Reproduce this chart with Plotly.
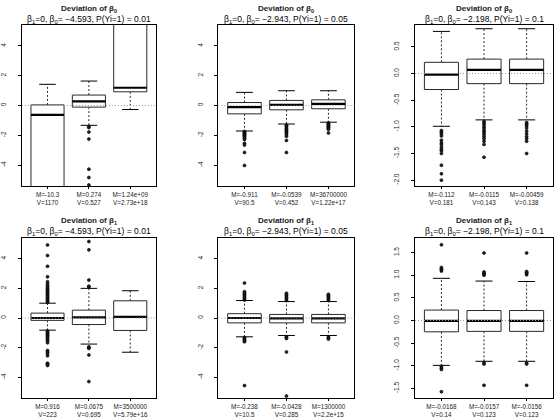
import plotly.graph_objects as go

# ---------------- data ----------------
TITLES = ["<b>Deviation of β<sub>0</sub></b>"] * 3 + ["<b>Deviation of β<sub>1</sub></b>"] * 3
SUBTITLES = [
    "β<sub>1</sub>=0, β<sub>0</sub>= −4.593, P(Yi=1) = 0.01",
    "β<sub>1</sub>=0, β<sub>0</sub>= −2.943, P(Yi=1) = 0.05",
    "β<sub>1</sub>=0, β<sub>0</sub>= −2.198, P(Yi=1) = 0.1",
] * 2

XLABELS = [
    ["M=-10.3<br>V=1170", "M=0.274<br>V=0.527", "M=1.24e+09<br>V=2.73e+18"],
    ["M=-0.911<br>V=90.5", "M=-0.0539<br>V=0.452", "M=36700000<br>V=1.22e+17"],
    ["M=-0.112<br>V=0.181", "M=-0.0115<br>V=0.143", "M=-0.00459<br>V=0.138"],
    ["M=0.916<br>V=223", "M=0.0675<br>V=0.695", "M=3500000<br>V=5.79e+16"],
    ["M=-0.238<br>V=10.5", "M=-0.0428<br>V=0.285", "M=1300000<br>V=2.2e+15"],
    ["M=-0.0168<br>V=0.14", "M=-0.0157<br>V=0.123", "M=-0.0156<br>V=0.123"],
]

# five-number stats per panel (3 boxes each)
LOWER = [
    [-40.0, -1.33, -0.27],
    [-1.71, -1.24, -1.12],
    [-0.99, -0.87, -0.87],
    [-0.82, -1.76, -2.31],
    [-1.27, -1.18, -1.18],
    [-0.99, -0.90, -0.90],
]
Q1 = [
    [-15.0, -0.11, 0.92],
    [-0.56, -0.29, -0.22],
    [-0.30, -0.19, -0.19],
    [-0.16, -0.44, -0.84],
    [-0.33, -0.33, -0.33],
    [-0.25, -0.24, -0.24],
]
MEDIAN = [
    [-0.63, 0.27, 1.19],
    [-0.11, 0.04, 0.11],
    [-0.02, 0.07, 0.07],
    [0.00, 0.04, 0.07],
    [0.00, -0.02, -0.02],
    [-0.01, -0.01, -0.01],
]
Q3 = [
    [0.04, 0.70, 20.0],
    [0.20, 0.34, 0.38],
    [0.21, 0.27, 0.27],
    [0.33, 0.53, 1.16],
    [0.29, 0.24, 0.24],
    [0.23, 0.22, 0.22],
]
UPPER = [
    [1.42, 1.64, 50.0],
    [0.88, 0.99, 0.99],
    [0.79, 0.84, 0.84],
    [1.00, 2.00, 1.84],
    [1.18, 1.11, 1.11],
    [0.93, 0.87, 0.86],
]
OUTLIERS = [
    [[], [-1.42, -1.48, -1.78, -2.25, -4.27, -4.83, -5.33], []],
    [[-1.75, -1.8, -1.85, -1.9, -1.95, -2.0, -2.05, -2.1, -2.2, -2.28, -2.54, -2.65, -3.15, -4.02],
     [-1.32, -1.38, -1.45, -1.55, -1.62, -1.7, -1.78, -1.85, -1.95, -2.07, -2.34, -3.15],
     [-1.17, -1.22, -1.28, -1.34, -1.4, -1.46, -1.52, -1.6, -1.84]],
    [[-1.07, -1.1, -1.13, -1.17, -1.25, -1.3, -1.33, -1.38, -1.42, -1.45, -1.5, -1.72, -1.88, -2.0],
     [-0.9, -0.93, -0.96, -1.0, -1.03, -1.07, -1.1, -1.14, -1.18, -1.22, -1.27, -1.33, -1.57],
     [-0.92, -0.95, -0.98, -1.02, -1.08, -1.13, -1.18, -1.22, -1.27, -1.5]],
    [[1.05, 1.12, 1.2, 1.28, 1.36, 1.44, 1.52, 1.6, 1.68, 1.76, 1.84, 1.92, 2.0, 2.1, 2.2, 2.32,
      2.45, 2.78, 3.49, 4.22, 4.93, -0.88, -0.95, -1.02, -1.1, -1.18, -1.26, -1.35, -1.45, -1.55,
      -1.67, -2.2, -2.3, -2.4, -2.55, -3.05, -3.12, -3.2],
     [2.1, 2.15, 2.56, 4.6, 5.16, -1.95, -2.0, -2.05, -2.49, -4.29],
     []],
    [[1.22, 1.3, 1.4, 1.5, 1.6, 1.7, 1.78, 2.36, -1.33, -1.4, -1.48, -1.55, -1.6, -4.56],
     [1.2, 1.3, 1.4, 1.5, 1.58, 1.67, -1.27, -1.32, -1.38, -2.29, -5.27],
     [1.2, 1.28, 1.36, 1.45, 1.53, 1.6, -1.29, -1.35, -1.42]],
    [[1.09, 1.12, 1.14, 1.17, 1.67, -1.01, -1.05, -1.08, -1.57],
     [1.0, 1.03, 1.05, 1.07, 1.49, -0.93, -0.96, -1.43],
     [1.01, 1.04, 1.06, 1.08, 1.49, -0.94, -0.96, -1.43]],
]

YTICKS_WIDE = [-4, -2, 0, 2, 4]
YTICKS_WIDE_TEXT = ["-4", "-2", "0", "2", "4"]
YTICKS_P3 = [-2.0, -1.5, -1.0, -0.5, 0.0, 0.5]
YTICKS_P3_TEXT = ["-2.0", "-1.5", "-1.0", "-0.5", "0.0", "0.5"]
YTICKS_P6 = [-1.5, -1.0, -0.5, 0.0, 0.5, 1.0, 1.5]
YTICKS_P6_TEXT = ["-1.5", "-1.0", "-0.5", "0.0", "0.5", "1.0", "1.5"]
POSITIONS = [1, 2, 3]

# ---------------- layout constants ----------------
W, H = 556, 418
FONT = "Liberation Sans, Arial, Helvetica, sans-serif"
XDOM = [(18, 153), (216, 353), (414, 553)]
YDOM = [(25, 186), (238, 398)]
YRANGES = [[-5.4, 5.4], [-5.4, 5.4], [-2.11, 0.91], [-5.4, 5.4], [-5.4, 5.4], [-1.71, 1.82]]
YTICKS = [(YTICKS_WIDE, YTICKS_WIDE_TEXT)] * 2 + [(YTICKS_P3, YTICKS_P3_TEXT)] + \
         [(YTICKS_WIDE, YTICKS_WIDE_TEXT)] * 2 + [(YTICKS_P6, YTICKS_P6_TEXT)]
TITLE_Y = [(8.5, 19.5), (220.5, 231.5)]
HALF_BOX = 0.4
HALF_CAP = 0.2
LINE_COL = "#2a2a2a"

fig = go.Figure()
annotations = []
shapes = []

for p in range(6):
    row, col = divmod(p, 3)
    n = p + 1
    xa = "x" if n == 1 else f"x{n}"
    ya = "y" if n == 1 else f"y{n}"
    for b, c in enumerate(POSITIONS):
        q1, md, q3 = Q1[p][b], MEDIAN[p][b], Q3[p][b]
        lo, hi = LOWER[p][b], UPPER[p][b]
        # whiskers (dashed)
        fig.add_trace(go.Scatter(
            x=[c, c, None, c, c], y=[q3, hi, None, q1, lo], mode="lines",
            line=dict(color=LINE_COL, width=1, dash="2px,2px"),
            xaxis=xa, yaxis=ya, showlegend=False, hoverinfo="skip"))
        # caps
        fig.add_trace(go.Scatter(
            x=[c - HALF_CAP, c + HALF_CAP, None, c - HALF_CAP, c + HALF_CAP],
            y=[hi, hi, None, lo, lo], mode="lines",
            line=dict(color="black", width=1),
            xaxis=xa, yaxis=ya, showlegend=False, hoverinfo="skip"))
        # box
        fig.add_trace(go.Scatter(
            x=[c - HALF_BOX, c + HALF_BOX, c + HALF_BOX, c - HALF_BOX, c - HALF_BOX],
            y=[q1, q1, q3, q3, q1], mode="lines", fill="toself", fillcolor="white",
            line=dict(color=LINE_COL, width=1),
            xaxis=xa, yaxis=ya, showlegend=False, hoverinfo="skip"))
        # median
        fig.add_trace(go.Scatter(
            x=[c - HALF_BOX, c + HALF_BOX], y=[md, md], mode="lines",
            line=dict(color="black", width=2.2),
            xaxis=xa, yaxis=ya, showlegend=False, hoverinfo="skip"))
        # outliers
        out = OUTLIERS[p][b]
        if out:
            fig.add_trace(go.Scatter(
                x=[c] * len(out), y=out, mode="markers",
                marker=dict(symbol="circle", size=3, color="#222222",
                            line=dict(width=0.6, color="black")),
                xaxis=xa, yaxis=ya, showlegend=False, hoverinfo="skip"))

    # zero reference line (dotted grey)
    shapes.append(dict(type="line", xref=f"{xa} domain", yref=ya, x0=0, x1=1, y0=0, y1=0,
                       line=dict(color="#9a9a9a", width=1, dash="1px,2px"), layer="above"))

    x0, x1 = XDOM[col]
    y0, y1 = YDOM[row]
    tv, tt = YTICKS[p]
    fig.layout[f"xaxis{'' if n == 1 else n}"] = dict(
        domain=[x0 / W, x1 / W], anchor=ya, range=[0.38, 3.62],
        tickvals=POSITIONS, ticktext=XLABELS[p], tickfont=dict(size=6.3, family=FONT, color="#222222"),
        ticks="outside", ticklen=2, tickcolor="black", showline=True, mirror=True,
        linecolor="black", linewidth=1, showgrid=False, zeroline=False)
    fig.layout[f"yaxis{'' if n == 1 else n}"] = dict(
        domain=[1 - y1 / H, 1 - y0 / H], anchor=xa, range=YRANGES[p],
        tickvals=tv, ticktext=tt, tickangle=-90,
        tickfont=dict(size=6.5, family=FONT, color="#222222"),
        ticks="outside", ticklen=3, tickcolor="black", ticklabelstandoff=9,
        showline=True, mirror=True,
        linecolor="black", linewidth=1, showgrid=False, zeroline=False)

    cx = (x0 + x1) / 2 / W
    ty, sy = TITLE_Y[row]
    annotations.append(dict(text=TITLES[p], x=cx, y=1 - ty / H, xref="paper", yref="paper",
                            showarrow=False, xanchor="center", yanchor="middle",
                            font=dict(size=8, family=FONT, color="#222222")))
    annotations.append(dict(text=SUBTITLES[p], x=cx, y=1 - sy / H, xref="paper", yref="paper",
                            showarrow=False, xanchor="center", yanchor="middle",
                            font=dict(size=8.5, family=FONT, color="black")))

fig.update_layout(
    width=W, height=H, margin=dict(l=0, r=0, t=0, b=0),
    paper_bgcolor="white", plot_bgcolor="white",
    annotations=annotations, shapes=shapes, showlegend=False,
    font=dict(family=FONT, color="black"),
)

fig.write_html("out.html")
